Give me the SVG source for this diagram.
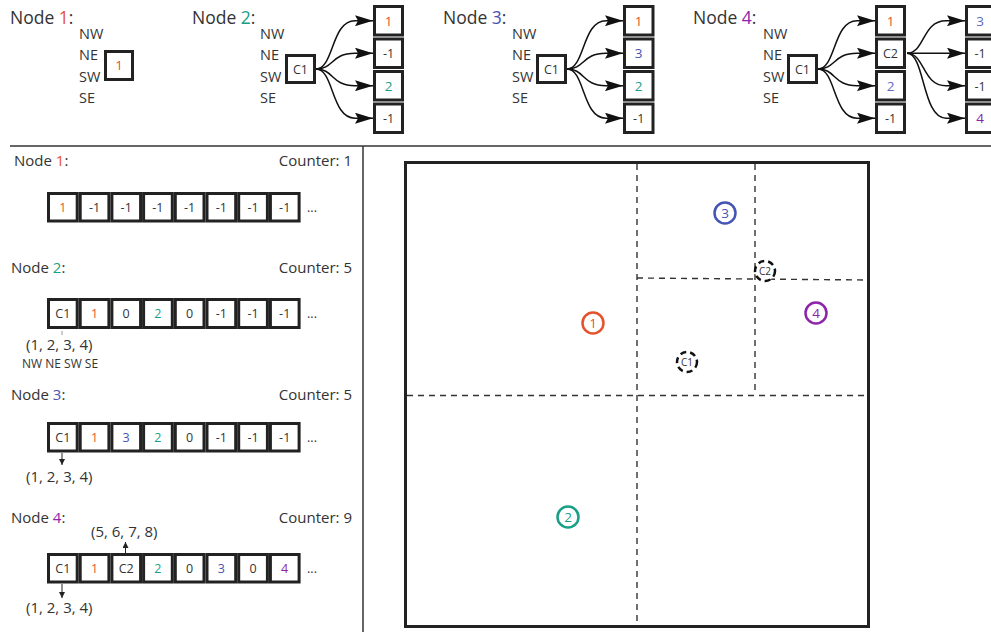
<svg xmlns="http://www.w3.org/2000/svg" width="991" height="632" viewBox="0 0 991 632">
<defs>
<style>
text{font-family:"Open Sans","Liberation Sans",sans-serif;fill:#333}
.h{font-size:17.5px}
.hl{font-size:15px}
.d{font-size:14.5px}
.c{font-size:12.5px;text-anchor:middle}
.ct{font-size:13.5px;text-anchor:middle}
.t{font-size:15px}
.s{font-size:12px}
.box{fill:#fff;stroke:#222;stroke-width:3}
.cell{fill:#fff;stroke:#222;stroke-width:3}
.arr{fill:none;stroke:#111;stroke-width:1.5;marker-end:url(#ah)}
.sarr{fill:none;stroke:#222;stroke-width:1;marker-end:url(#sa)}
.grid{fill:none;stroke:#333;stroke-width:1.4;stroke-dasharray:6 5}
.o{fill:#e5532d}.g{fill:#18a086}.b{fill:#4654b3}.b2{fill:#5c6bc0}.p{fill:#8e24aa}
</style>
<marker id="ah" markerUnits="userSpaceOnUse" markerWidth="18" markerHeight="11" refX="18" refY="5.5" orient="auto">
<path d="M0,0 L18,5.5 L0,11 L3,5.5 z" fill="#111"/>
</marker>
<marker id="sa" markerUnits="userSpaceOnUse" markerWidth="6" markerHeight="6" refX="6" refY="3" orient="auto">
<path d="M0,0 L6,3 L0,6 z" fill="#222"/>
</marker>
</defs>
<rect width="991" height="632" fill="#fff"/>

<!-- separators -->
<g id="separators" stroke="#333" stroke-width="1.5">
<line x1="10" y1="146" x2="991" y2="146"/>
<line x1="363" y1="146" x2="363" y2="632"/>
</g>

<!-- Top: Node 1 -->
<g id="top-node1">
<text class="h" x="10" y="24">Node <tspan class="o">1</tspan>:</text>
<text class="d" x="79" y="38.5">NW</text>
<text class="d" x="79" y="60">NE</text>
<text class="d" x="79" y="81.5">SW</text>
<text class="d" x="79" y="103">SE</text>
<rect class="box" x="105.5" y="51.5" width="27" height="28"/>
<text class="ct o" x="119" y="70">1</text>
</g>

<!-- Top: Node 2 -->
<g id="top-node2">
<text class="h" x="192" y="24">Node <tspan class="g">2</tspan>:</text>
<text class="d" x="260" y="38.5">NW</text>
<text class="d" x="260" y="60">NE</text>
<text class="d" x="260" y="81.5">SW</text>
<text class="d" x="260" y="103">SE</text>
<rect class="box" x="286.5" y="55.5" width="28" height="27"/>
<text class="c" x="300.5" y="73.5">C1</text>
<rect class="box" x="374.5" y="6.5" width="28" height="28.5"/>
<rect class="box" x="374.5" y="39" width="28" height="28.5"/>
<rect class="box" x="374.5" y="71.5" width="28" height="28.5"/>
<rect class="box" x="374.5" y="104" width="28" height="28.5"/>
<text class="ct o" x="388.5" y="25.5">1</text>
<text class="c" x="388.5" y="58">-1</text>
<text class="ct g" x="388.5" y="90.5">2</text>
<text class="c" x="388.5" y="123">-1</text>
</g>

<!-- Top: Node 3 -->
<g id="top-node3">
<text class="h" x="443" y="24">Node <tspan class="b">3</tspan>:</text>
<text class="d" x="512" y="38.5">NW</text>
<text class="d" x="512" y="60">NE</text>
<text class="d" x="512" y="81.5">SW</text>
<text class="d" x="512" y="103">SE</text>
<rect class="box" x="537.5" y="55.5" width="28" height="27"/>
<text class="c" x="551.5" y="73.5">C1</text>
<rect class="box" x="624.5" y="6.5" width="28.5" height="28.5"/>
<rect class="box" x="624.5" y="39" width="28.5" height="28.5"/>
<rect class="box" x="624.5" y="71.5" width="28.5" height="28.5"/>
<rect class="box" x="624.5" y="104" width="28.5" height="28.5"/>
<text class="ct o" x="638.7" y="25.5">1</text>
<text class="ct b" x="638.7" y="58">3</text>
<text class="ct g" x="638.7" y="90.5">2</text>
<text class="c" x="638.7" y="123">-1</text>
</g>

<!-- Top: Node 4 -->
<g id="top-node4">
<text class="h" x="693" y="24">Node <tspan class="p">4</tspan>:</text>
<text class="d" x="763" y="38.5">NW</text>
<text class="d" x="763" y="60">NE</text>
<text class="d" x="763" y="81.5">SW</text>
<text class="d" x="763" y="103">SE</text>
<rect class="box" x="788.5" y="55.5" width="28" height="27"/>
<text class="c" x="802.5" y="73.5">C1</text>
<rect class="box" x="876.5" y="6.5" width="28" height="28.5"/>
<rect class="box" x="876.5" y="39" width="28" height="28.5"/>
<rect class="box" x="876.5" y="71.5" width="28" height="28.5"/>
<rect class="box" x="876.5" y="104" width="28" height="28.5"/>
<text class="ct o" x="890.5" y="25.5">1</text>
<text class="c" x="890.5" y="58">C2</text>
<text class="ct b2" x="890.5" y="90.5">2</text>
<text class="c" x="890.5" y="123">-1</text>
<rect class="box" x="966.5" y="6.5" width="28" height="28.5"/>
<rect class="box" x="966.5" y="39" width="28" height="28.5"/>
<rect class="box" x="966.5" y="71.5" width="28" height="28.5"/>
<rect class="box" x="966.5" y="104" width="28" height="28.5"/>
<text class="ct b2" x="980" y="25.5">3</text>
<text class="c" x="980" y="58">-1</text>
<text class="c" x="980" y="90.5">-1</text>
<text class="ct p" x="980" y="123">4</text>
</g>

<!-- connectors -->
<g id="connectors">
<path class="arr" d="M316,69 C334,69 331,20.7 355,20.7 L373,20.7"/>
<path class="arr" d="M316,69 C334,69 331,53.2 355,53.2 L373,53.2"/>
<path class="arr" d="M316,69 C334,69 331,85.7 355,85.7 L373,85.7"/>
<path class="arr" d="M316,69 C334,69 331,118.2 355,118.2 L373,118.2"/>
<path class="arr" d="M567,69 C585,69 582,20.7 606,20.7 L623,20.7"/>
<path class="arr" d="M567,69 C585,69 582,53.2 606,53.2 L623,53.2"/>
<path class="arr" d="M567,69 C585,69 582,85.7 606,85.7 L623,85.7"/>
<path class="arr" d="M567,69 C585,69 582,118.2 606,118.2 L623,118.2"/>
<path class="arr" d="M818,69 C836,69 833,20.7 857,20.7 L875,20.7"/>
<path class="arr" d="M818,69 C836,69 833,53.2 857,53.2 L875,53.2"/>
<path class="arr" d="M818,69 C836,69 833,85.7 857,85.7 L875,85.7"/>
<path class="arr" d="M818,69 C836,69 833,118.2 857,118.2 L875,118.2"/>
<path class="arr" d="M907,53.2 C925,53.2 922,20.7 946,20.7 L965,20.7"/>
<path class="arr" d="M907,53.2 L965,53.2"/>
<path class="arr" d="M907,53.2 C925,53.2 922,85.7 946,85.7 L965,85.7"/>
<path class="arr" d="M907,53.2 C925,53.2 922,118.2 946,118.2 L965,118.2"/>
<path class="sarr" d="M62,453 L62,465"/>
<path class="sarr" d="M125.5,553 L125.5,542"/>
<path class="sarr" d="M62,584 L62,598"/>
<line x1="62" y1="331" x2="62" y2="335" stroke="#999" stroke-width="1"/>
</g>

<!-- Left: Node 1 array -->
<g id="array-node1">
<text class="hl" x="14" y="166">Node <tspan class="o">1</tspan>:</text>
<text class="t" x="352" y="166" text-anchor="end">Counter: 1</text>
<rect class="cell" x="48.5" y="193.5" width="28.7" height="27.5"/>
<rect class="cell" x="80.2" y="193.5" width="28.7" height="27.5"/>
<rect class="cell" x="111.9" y="193.5" width="28.7" height="27.5"/>
<rect class="cell" x="143.6" y="193.5" width="28.7" height="27.5"/>
<rect class="cell" x="175.3" y="193.5" width="28.7" height="27.5"/>
<rect class="cell" x="207" y="193.5" width="28.7" height="27.5"/>
<rect class="cell" x="238.7" y="193.5" width="28.7" height="27.5"/>
<rect class="cell" x="270.4" y="193.5" width="28.7" height="27.5"/>
<text class="c o" x="62.8" y="212">1</text>
<text class="c" x="94.5" y="212">-1</text>
<text class="c" x="126.2" y="212">-1</text>
<text class="c" x="157.9" y="212">-1</text>
<text class="c" x="189.6" y="212">-1</text>
<text class="c" x="221.3" y="212">-1</text>
<text class="c" x="253" y="212">-1</text>
<text class="c" x="284.7" y="212">-1</text>
<text class="c" x="312" y="212">...</text>
</g>

<!-- Left: Node 2 array -->
<g id="array-node2">
<text class="hl" x="11" y="273">Node <tspan class="g">2</tspan>:</text>
<text class="t" x="352" y="273" text-anchor="end">Counter: 5</text>
<rect class="cell" x="48.5" y="299.5" width="28.7" height="28"/>
<rect class="cell" x="80.2" y="299.5" width="28.7" height="28"/>
<rect class="cell" x="111.9" y="299.5" width="28.7" height="28"/>
<rect class="cell" x="143.6" y="299.5" width="28.7" height="28"/>
<rect class="cell" x="175.3" y="299.5" width="28.7" height="28"/>
<rect class="cell" x="207" y="299.5" width="28.7" height="28"/>
<rect class="cell" x="238.7" y="299.5" width="28.7" height="28"/>
<rect class="cell" x="270.4" y="299.5" width="28.7" height="28"/>
<text class="c" x="62.8" y="318">C1</text>
<text class="c o" x="94.5" y="318">1</text>
<text class="c" x="126.2" y="318">0</text>
<text class="c g" x="157.9" y="318">2</text>
<text class="c" x="189.6" y="318">0</text>
<text class="c" x="221.3" y="318">-1</text>
<text class="c" x="253" y="318">-1</text>
<text class="c" x="284.7" y="318">-1</text>
<text class="c" x="312" y="318">...</text>
<text class="t" x="26" y="350">(1, 2, 3, 4)</text>
<text class="s" x="22" y="368">NW NE SW SE</text>
</g>

<!-- Left: Node 3 array -->
<g id="array-node3">
<text class="hl" x="11" y="400">Node <tspan class="b">3</tspan>:</text>
<text class="t" x="352" y="400" text-anchor="end">Counter: 5</text>
<rect class="cell" x="48.5" y="423.5" width="28.7" height="27.5"/>
<rect class="cell" x="80.2" y="423.5" width="28.7" height="27.5"/>
<rect class="cell" x="111.9" y="423.5" width="28.7" height="27.5"/>
<rect class="cell" x="143.6" y="423.5" width="28.7" height="27.5"/>
<rect class="cell" x="175.3" y="423.5" width="28.7" height="27.5"/>
<rect class="cell" x="207" y="423.5" width="28.7" height="27.5"/>
<rect class="cell" x="238.7" y="423.5" width="28.7" height="27.5"/>
<rect class="cell" x="270.4" y="423.5" width="28.7" height="27.5"/>
<text class="c" x="62.8" y="442">C1</text>
<text class="c o" x="94.5" y="442">1</text>
<text class="c b" x="126.2" y="442">3</text>
<text class="c g" x="157.9" y="442">2</text>
<text class="c" x="189.6" y="442">0</text>
<text class="c" x="221.3" y="442">-1</text>
<text class="c" x="253" y="442">-1</text>
<text class="c" x="284.7" y="442">-1</text>
<text class="c" x="312" y="442">...</text>
<text class="t" x="26" y="482">(1, 2, 3, 4)</text>
</g>

<!-- Left: Node 4 array -->
<g id="array-node4">
<text class="hl" x="11" y="523">Node <tspan class="p">4</tspan>:</text>
<text class="t" x="352" y="523" text-anchor="end">Counter: 9</text>
<text class="t" x="91" y="537">(5, 6, 7, 8)</text>
<rect class="cell" x="48.5" y="554.5" width="28.7" height="27.5"/>
<rect class="cell" x="80.2" y="554.5" width="28.7" height="27.5"/>
<rect class="cell" x="111.9" y="554.5" width="28.7" height="27.5"/>
<rect class="cell" x="143.6" y="554.5" width="28.7" height="27.5"/>
<rect class="cell" x="175.3" y="554.5" width="28.7" height="27.5"/>
<rect class="cell" x="207" y="554.5" width="28.7" height="27.5"/>
<rect class="cell" x="238.7" y="554.5" width="28.7" height="27.5"/>
<rect class="cell" x="270.4" y="554.5" width="28.7" height="27.5"/>
<text class="c" x="62.8" y="573">C1</text>
<text class="c o" x="94.5" y="573">1</text>
<text class="c" x="126.2" y="573">C2</text>
<text class="c g" x="157.9" y="573">2</text>
<text class="c" x="189.6" y="573">0</text>
<text class="c b" x="221.3" y="573">3</text>
<text class="c" x="253" y="573">0</text>
<text class="c p" x="284.7" y="573">4</text>
<text class="c" x="312" y="573">...</text>
<text class="t" x="26" y="613">(1, 2, 3, 4)</text>
</g>

<!-- Right: quadtree space -->
<g id="space">
<rect x="405.5" y="162.5" width="463" height="464" fill="none" stroke="#222" stroke-width="3"/>
<line class="grid" x1="637" y1="164" x2="637" y2="625"/>
<line class="grid" x1="407" y1="395.5" x2="867" y2="395.5"/>
<line class="grid" x1="755" y1="164" x2="755" y2="395"/>
<line class="grid" x1="637" y1="278" x2="867" y2="280"/>
</g>
<g id="point1"><circle cx="593" cy="323" r="10.5" fill="#fff" stroke="#e5532d" stroke-width="2.5"/><text class="ct o" x="593" y="328">1</text></g>
<g id="point2"><circle cx="568" cy="517" r="10.5" fill="#fff" stroke="#18a086" stroke-width="2.5"/><text class="ct g" x="568" y="522">2</text></g>
<g id="point3"><circle cx="725" cy="213" r="10.5" fill="#fff" stroke="#4654b3" stroke-width="2.5"/><text class="ct b" x="725" y="218">3</text></g>
<g id="point4"><circle cx="816" cy="313" r="10.5" fill="#fff" stroke="#8e24aa" stroke-width="2.5"/><text class="ct p" x="816" y="318">4</text></g>
<g id="center-c1"><circle cx="687" cy="362" r="10" fill="#fff" stroke="#111" stroke-width="2.5" stroke-dasharray="6 4"/><text x="687" y="366" font-size="10" text-anchor="middle">C1</text></g>
<g id="center-c2"><circle cx="765" cy="271" r="10" fill="#fff" stroke="#111" stroke-width="2.5" stroke-dasharray="6 4"/><text x="765" y="275" font-size="10" text-anchor="middle">C2</text></g>
</svg>
